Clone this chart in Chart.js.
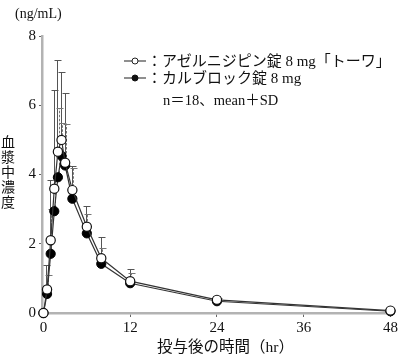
<!DOCTYPE html>
<html>
<head>
<meta charset="utf-8">
<script src="https://cdn.jsdelivr.net/npm/chart.js@4/dist/chart.umd.min.js"></script>
<style>
  html,body{margin:0;padding:0;background:#fff;}
  #wrap{position:relative;width:400px;height:362px;overflow:hidden;}
  #c{position:absolute;left:0;top:0;}
  .t{position:absolute;white-space:nowrap;color:#111;font-family:"Liberation Serif","Noto Sans CJK JP",serif;}
</style>
</head>
<body>
<div id="wrap">
  <canvas id="c" width="400" height="362"></canvas>
  <div class="t" style="left:15px;top:6px;font-size:14px;line-height:16px;">(ng/mL)</div>
  <div class="t" style="left:0px;top:135px;font-size:14px;line-height:15px;width:16px;text-align:center;white-space:normal;">血<br>漿<br>中<br>濃<br>度</div>
  <div class="t" style="left:157px;top:338px;font-size:15.5px;line-height:18px;">投与後の時間（hr）</div>
  <svg style="position:absolute;left:122px;top:54px" width="28" height="32">
    <line x1="2" y1="7" x2="24" y2="7" stroke="#444" stroke-width="1.2"/>
    <circle cx="13" cy="7" r="3" fill="#fff" stroke="#222" stroke-width="1"/>
    <line x1="2" y1="24" x2="24" y2="24" stroke="#444" stroke-width="1.2"/>
    <circle cx="13" cy="24" r="3" fill="#111" stroke="#111" stroke-width="1"/>
  </svg>
  <div class="t" id="lg1" style="left:147px;top:51px;font-size:15px;line-height:20px;">：アゼルニジピン錠 8 mg「トーワ」</div>
  <div class="t" id="lg2" style="left:147px;top:68px;font-size:15px;line-height:20px;">：カルブロック錠 8 mg</div>
  <div class="t" id="lg3" style="left:163px;top:90px;font-size:14.5px;line-height:20px;">n＝18、mean＋SD</div>
</div>
<script>
const times = [0, 0.5, 1, 1.5, 2, 2.5, 3, 4, 6, 8, 12, 24, 48];
const azelMean = [0, 0.68, 2.10, 3.59, 4.66, 5.00, 4.34, 3.55, 2.49, 1.58, 0.92, 0.38, 0.07];
const azelSD   = [0, 0.72, 1.75, 2.86, 2.64, 1.95, 2.01, 0.70, 0.61, 0.62, 0.35, 0.10, 0.05];
const calbMean = [0, 0.55, 1.71, 2.94, 3.92, 4.54, 4.26, 3.30, 2.30, 1.42, 0.86, 0.34, 0.05];
const calbSD   = [0, 0.55, 1.30, 0.90, 2.01, 0.96, 1.19, 0.90, 0.56, 0.45, 0.29, 0.10, 0.05];
const xTicks = [0, 12, 24, 36, 48];
const yTicks = [0, 2, 4, 6, 8];
const seriesNames = ['アゼルニジピン錠 8 mg「トーワ」', 'カルブロック錠 8 mg'];

function pts(m){ return times.map((t,i)=>({x:t,y:m[i]})); }

const errorBars = {
  id:'errorBars',
  beforeDatasetsDraw(chart){
    const {ctx, scales:{x,y}} = chart;
    const sets = [
      {m:azelMean, sd:azelSD, color:'#555', dash:[], dx:-0.6},
      {m:calbMean, sd:calbSD, color:'#777', dash:[2.5,1.5], dx:0.6}
    ];
    ctx.save();
    ctx.lineWidth = 1;
    sets.forEach(s=>{
      ctx.strokeStyle = s.color;
      times.forEach((t,i)=>{
        if(!s.sd[i]) return;
        const px = Math.round(x.getPixelForValue(t)+s.dx)+0.5;
        const y0 = y.getPixelForValue(s.m[i]);
        const y1 = Math.round(y.getPixelForValue(s.m[i]+s.sd[i]))+0.5;
        ctx.setLineDash(s.dash);
        ctx.beginPath(); ctx.moveTo(px,y0); ctx.lineTo(px,y1); ctx.stroke();
        ctx.setLineDash([]);
        ctx.beginPath(); ctx.moveTo(px-3,y1); ctx.lineTo(px+4,y1); ctx.stroke();
      });
    });
    ctx.restore();
  }
};

new Chart(document.getElementById('c'), {
  type:'line',
  data:{
    datasets:[
      {label:seriesNames[0], data:pts(azelMean), borderColor:'#333', borderWidth:1.2,
       pointStyle:'circle', pointRadius:4.6, pointBackgroundColor:'#fff', pointBorderColor:'#111',
       pointBorderWidth:1.2, tension:0, clip:false, order:1},
      {label:seriesNames[1], data:pts(calbMean), borderColor:'#333', borderWidth:1.2,
       pointStyle:'circle', pointRadius:4.6, pointBackgroundColor:'#000', pointBorderColor:'#000',
       pointBorderWidth:1, tension:0, clip:false, order:2}
    ]
  },
  options:{
    responsive:false, animation:false, devicePixelRatio:1,
    layout:{padding:{top:36, right:5, left:0, bottom:0}},
    plugins:{legend:{display:false}, tooltip:{enabled:false}},
    scales:{
      x:{type:'linear', min:-0.2, max:48.5,
         afterBuildTicks(s){ s.ticks = xTicks.map(v=>({value:v})); },
         afterFit(s){ s.height = 49; },
         grid:{drawOnChartArea:false, drawTicks:true, tickLength:4, color:'#666', lineWidth:1},
         border:{color:'#b3b3b3', width:2.5},
         ticks:{color:'#111', padding:2, maxRotation:0, font:{family:'"Liberation Serif", serif', size:15}}
      },
      y:{type:'linear', min:0, max:8,
         afterBuildTicks(s){ s.ticks = yTicks.map(v=>({value:v})); },
         afterFit(s){ s.width = 42; },
         grid:{drawOnChartArea:false, drawTicks:true, tickLength:3, color:'#666', lineWidth:1},
         border:{color:'#b3b3b3', width:2.5},
         ticks:{color:'#111', padding:3, font:{family:'"Liberation Serif", serif', size:15}}
      }
    }
  },
  plugins:[errorBars]
});
</script>
</body>
</html>
